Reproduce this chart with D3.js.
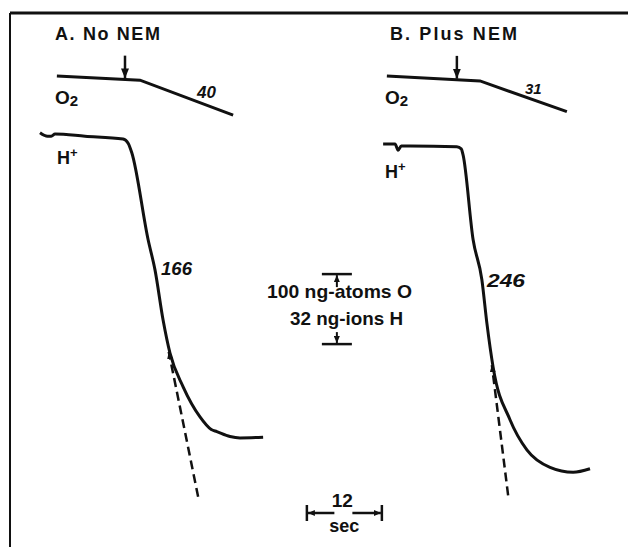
<!DOCTYPE html>
<html>
<head>
<meta charset="utf-8">
<script src="https://cdn.jsdelivr.net/npm/d3@7"></script>
<style>
  body { margin: 0; background: #fff; }
  text { font-family: "Liberation Sans", Arial, sans-serif; fill: #111; }
</style>
</head>
<body>
<div id="chart"></div>
<script>
// x: time in sec, y: downward deflection in ng-atoms O
const panelTitles = ['A. No NEM', 'B. Plus NEM'];
const o2Rates = ['40', '31'];
const hRates = ['166', '246'];
const addTimes = [18.4, 71.5];

const o2A = [[7.5, 90], [20.8, 96], [35.7, 146]];
const o2B = [[60.3, 90], [75.2, 97], [89.1, 141]];

const hA = [[4.8, 171], [6.0, 176], [6.6, 176], [7.2, 173], [12, 176], [18.1, 180], [18.9, 186],
  [19.5, 200], [22.1, 324], [23.2, 367], [24.5, 439], [25.6, 486], [27.7, 534], [30.4, 577],
  [32.2, 595], [33.1, 598], [35.2, 605], [36.8, 607], [40.5, 606]];
const hB = [[59.7, 187], [61.6, 187], [62.1, 196], [62.6, 190], [64.0, 190], [71.5, 191], [72.2, 194],
  [72.5, 203], [74.1, 324], [75.5, 381], [76.3, 443], [77.3, 506], [80.0, 581], [82.7, 624],
  [86.4, 649], [90.1, 656], [92.8, 651]];

const tangentA = [[25.4, 484], [30.1, 691]];
const tangentB = [[77.1, 503], [79.7, 689]];

const scaleO = 100;   // ng-atoms O
const scaleT = 12;    // sec

let width = 628, height = 547;

let svg = d3.select('#chart').append('svg')
    .attr('width', width)
    .attr('height', height);

let xScale = d3.scaleLinear().domain([0, 100]).range([10, 635]);
let yScale = d3.scaleLinear().domain([0, 100]).range([13, 83]);

let defs = svg.append('defs');
function marker(id, w, h) {
    defs.append('marker')
        .attr('id', id)
        .attr('viewBox', `0 0 ${w} ${h}`)
        .attr('refX', w).attr('refY', h / 2)
        .attr('markerWidth', w).attr('markerHeight', h)
        .attr('markerUnits', 'userSpaceOnUse')
        .attr('orient', 'auto')
        .append('path')
        .attr('d', `M0,0L${w},${h / 2}L0,${h}Z`)
        .attr('fill', '#111');
}
marker('big', 10, 8);
marker('small', 7, 6);

// frame
svg.append('line').attr('x1', 10).attr('y1', 13).attr('x2', width).attr('y2', 13)
    .attr('stroke', '#111').attr('stroke-width', 3);
svg.append('line').attr('x1', 10).attr('y1', 13).attr('x2', 10).attr('y2', height)
    .attr('stroke', '#111').attr('stroke-width', 2);

let line = d3.line()
    .x(d => xScale(d[0]))
    .y(d => yScale(d[1]));

let smooth = d3.line()
    .x(d => xScale(d[0]))
    .y(d => yScale(d[1]))
    .curve(d3.curveMonotoneX);

[o2A, o2B].forEach(d => {
    svg.append('path').attr('d', line(d))
        .attr('fill', 'none').attr('stroke', '#111').attr('stroke-width', 3);
});

[hA, hB].forEach(d => {
    svg.append('path').attr('d', smooth(d))
        .attr('fill', 'none').attr('stroke', '#111').attr('stroke-width', 3)
        .attr('stroke-linejoin', 'round');
});

[tangentA, tangentB].forEach(d => {
    svg.append('line')
        .attr('x1', xScale(d[1][0])).attr('y1', yScale(d[1][1]))
        .attr('x2', xScale(d[0][0])).attr('y2', yScale(d[0][1]))
        .attr('stroke', '#111').attr('stroke-width', 2.5)
        .attr('stroke-dasharray', '9,5')
        .attr('marker-end', 'url(#small)');
});

// addition arrows
addTimes.forEach((t, i) => {
    let o2 = i === 0 ? o2A : o2B;
    let i0 = d3.bisector(d => d[0]).left(o2, t);
    let a = o2[i0 - 1], b = o2[i0];
    let v = a[1] + (b[1] - a[1]) * (t - a[0]) / (b[0] - a[0]);
    svg.append('line')
        .attr('x1', xScale(t)).attr('y1', yScale(v - 34))
        .attr('x2', xScale(t)).attr('y2', yScale(v) - 1)
        .attr('stroke', '#111').attr('stroke-width', 2.5)
        .attr('marker-end', 'url(#big)');
});

// titles and labels
let titleX = [55, 390], titleW = [105, 127];
panelTitles.forEach((s, i) => {
    svg.append('text').attr('x', titleX[i]).attr('y', 40)
        .attr('font-size', 18).attr('font-weight', 'bold')
        .attr('textLength', titleW[i]).attr('lengthAdjust', 'spacing')
        .text(s);
});

[55, 385].forEach(x => {
    let t = svg.append('text').attr('x', x).attr('y', 104)
        .attr('font-size', 19).attr('font-weight', 'bold');
    t.append('tspan').text('O');
    t.append('tspan').attr('font-size', 15).attr('dy', 2).text('2');
});

[[57, 164], [385, 178]].forEach(p => {
    let t = svg.append('text').attr('x', p[0]).attr('y', p[1])
        .attr('font-size', 18).attr('font-weight', 'bold');
    t.append('tspan').text('H');
    t.append('tspan').attr('font-size', 13).attr('dy', -7).text('+');
});

let o2RatePos = [[197, 98, 17], [525, 94, 15]];
o2Rates.forEach((s, i) => {
    svg.append('text').attr('x', o2RatePos[i][0]).attr('y', o2RatePos[i][1])
        .attr('font-size', o2RatePos[i][2]).attr('font-weight', 'bold').attr('font-style', 'italic')
        .text(s);
});

let hRatePos = [[161, 275], [487, 287]];
hRates.forEach((s, i) => {
    svg.append('text').attr('x', hRatePos[i][0]).attr('y', hRatePos[i][1])
        .attr('font-size', 18).attr('font-weight', 'bold').attr('font-style', 'italic')
        .attr('textLength', i === 0 ? 31 : 38).attr('lengthAdjust', 'spacingAndGlyphs')
        .text(s);
});

// vertical calibration bar
let barX = xScale(52.3), barTop = 373;
[barTop, barTop + scaleO].forEach(v => {
    svg.append('line')
        .attr('x1', barX - 15).attr('x2', barX + 15)
        .attr('y1', yScale(v)).attr('y2', yScale(v))
        .attr('stroke', '#111').attr('stroke-width', 2.5);
});
svg.append('line').attr('x1', barX).attr('x2', barX)
    .attr('y1', yScale(barTop) + 13).attr('y2', yScale(barTop) + 1)
    .attr('stroke', '#111').attr('stroke-width', 2).attr('marker-end', 'url(#small)');
svg.append('line').attr('x1', barX).attr('x2', barX)
    .attr('y1', yScale(barTop + scaleO) - 12).attr('y2', yScale(barTop + scaleO) - 1)
    .attr('stroke', '#111').attr('stroke-width', 2).attr('marker-end', 'url(#small)');

svg.append('text').attr('x', 267).attr('y', 298)
    .attr('font-size', 19).attr('font-weight', 'bold')
    .attr('textLength', 145).attr('lengthAdjust', 'spacingAndGlyphs')
    .text(`${scaleO} ng-atoms O`);
svg.append('text').attr('x', 290).attr('y', 325)
    .attr('font-size', 19).attr('font-weight', 'bold')
    .attr('textLength', 113).attr('lengthAdjust', 'spacingAndGlyphs')
    .text('32 ng-ions H');

// time calibration bar
let t0 = 47.5, t1 = t0 + scaleT, tMid = (t0 + t1) / 2;
let barY = 513;
[t0, t1].forEach(t => {
    svg.append('line').attr('x1', xScale(t)).attr('x2', xScale(t))
        .attr('y1', barY - 8).attr('y2', barY + 8)
        .attr('stroke', '#111').attr('stroke-width', 2.5);
});
svg.append('line').attr('x1', xScale(tMid) - 10).attr('x2', xScale(t0) + 1)
    .attr('y1', barY).attr('y2', barY)
    .attr('stroke', '#111').attr('stroke-width', 2.5).attr('marker-end', 'url(#small)');
svg.append('line').attr('x1', xScale(tMid) + 8).attr('x2', xScale(t1) - 1)
    .attr('y1', barY).attr('y2', barY)
    .attr('stroke', '#111').attr('stroke-width', 2.5).attr('marker-end', 'url(#small)');
svg.append('text').attr('x', xScale(tMid) - 2).attr('y', 507)
    .attr('text-anchor', 'middle').attr('font-size', 19).attr('font-weight', 'bold')
    .text(scaleT);
svg.append('text').attr('x', xScale(tMid)).attr('y', 532)
    .attr('text-anchor', 'middle').attr('font-size', 18).attr('font-weight', 'bold')
    .text('sec');
</script>
</body>
</html>
